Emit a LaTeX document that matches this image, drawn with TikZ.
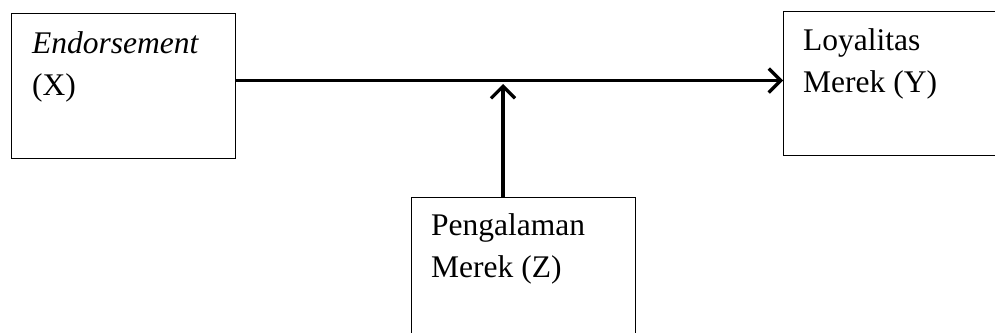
\documentclass[tikz,border=0pt]{standalone}
\usepackage{fontspec}
\setmainfont{Liberation Serif}
\usetikzlibrary{arrows.meta,calc}
\begin{document}
\begin{tikzpicture}[x=1pt,y=-1pt,
  box/.style={draw=black,line width=1pt,inner sep=0pt,anchor=north west},
  txt/.style={inner sep=0pt,anchor=base west,align=left,font=\fontsize{31.5}{41.5}\selectfont},
  arr/.style={line width=3.5pt,-{Straight Barb[length=12pt,width=24pt,line width=3.2pt]}}]
\useasboundingbox (0,0) rectangle (995,332);
\clip (0,0) rectangle (995,332);
\node[box,minimum width=224pt,minimum height=145pt] (X) at (11,13) {};
\node[box,minimum width=240pt,minimum height=144pt] (Y) at (783,11) {};
\node[box,minimum width=224pt,minimum height=150pt] (Z) at (411,197) {};
\node[txt] (xt) at (32,95) {\textit{Endorsement}\\(X)};
\node[txt] (yt) at (803,92) {Loyalitas\\Merek (Y)};
\node[txt] (zt) at (431,277) {Pengalaman\\Merek (Z)};
\coordinate (m) at (503,84);
\draw[arr] ([yshift=5.5pt]X.east) -- ([yshift=5.5pt]X.east -| Y.west);
\draw[arr] (Z.north -| m) -- (m);
\end{tikzpicture}
\end{document}
